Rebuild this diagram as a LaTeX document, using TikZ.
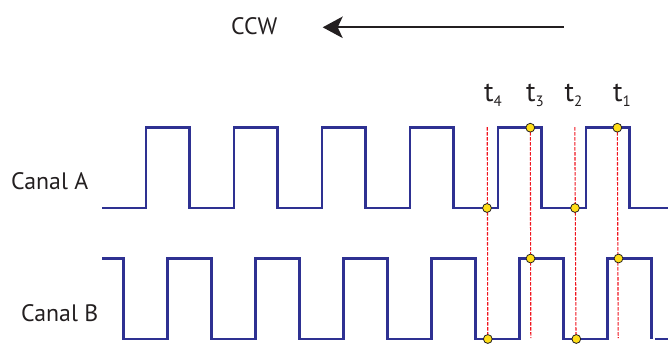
\documentclass[tikz,border=0pt]{standalone}
\usepackage{fontspec}
\setmainfont{PT Sans}
\usetikzlibrary{arrows.meta}
\definecolor{sigblue}{RGB}{46,49,146}
\definecolor{ink}{RGB}{35,31,32}
\definecolor{mred}{RGB}{240,20,30}
\definecolor{dotyel}{RGB}{255,222,23}
\newcommand{\tlab}[1]{{\fontsize{28}{28}\selectfont t}\raisebox{-5pt}{\fontsize{15}{15}\selectfont #1}}
\begin{document}
\begin{tikzpicture}[x=1pt,y=-1pt,
  signal/.style={draw=sigblue, line width=2.8pt, line join=miter},
  marker/.style={draw=mred, line width=1.1pt, dash pattern=on 3.5pt off 1.5pt},
  dot/.style={circle, fill=dotyel, draw=ink, line width=0.8pt, minimum size=8.8pt, inner sep=0pt},
  lbl/.style={font=\fontsize{23.8}{23.8}\selectfont, text=ink, inner sep=0pt},
  tl/.style={text=ink, inner sep=0pt, anchor=base west},
]
\useasboundingbox (0,0) rectangle (668,343);

% direction arrow
\node[lbl, anchor=base west] (ccw) at (231,34) {CCW};
\coordinate (arrS) at (563.5,27.3);
\coordinate (arrE) at (322.7,27.3);
\draw[ink, line width=1.7pt, -{Stealth[length=20pt,width=21.5pt,inset=5pt]}] (arrS) -- (arrE);

% channel labels
\node[lbl, anchor=base west] (canA) at (11,189.3) {Canal A};
\node[lbl, anchor=base west] (canB) at (21,321.7) {Canal B};

% time labels
\node[tl] (t4) at (484,101.7) {\tlab{4}};
\node[tl] (t3) at (526,101.7) {\tlab{3}};
\node[tl] (t2) at (564.5,101.7) {\tlab{2}};
\node[tl] (t1) at (613,101.7) {\tlab{1}};

% red dashed markers
\coordinate (m4t) at (487.2,127); \coordinate (m4b) at (487.8,339);
\coordinate (m3t) at (530.3,127); \coordinate (m3b) at (530.8,338);
\coordinate (m2t) at (574.8,127); \coordinate (m2b) at (576,339);
\coordinate (m1t) at (617.3,127); \coordinate (m1b) at (618.2,338);
\draw[marker] (m4t) -- (m4b);
\draw[marker] (m3t) -- (m3b);
\draw[marker] (m2t) -- (m2b);
\draw[marker] (m1t) -- (m1b);

% channel A
\draw[signal] (102,208)
  \foreach \k in {0,...,5}{
    -- ({146+88*\k},208) -- ({146+88*\k},127.7) -- ({189.7+88*\k},127.7) -- ({189.7+88*\k},208)}
  -- (668,208);

% channel B
\draw[signal] (102,258.5)
  \foreach \k in {0,...,5}{
    -- ({123.5+88*\k},258.5) -- ({123.5+88*\k},339) -- ({167.5+88*\k},339) -- ({167.5+88*\k},258.5)}
  -- (651.5,258.5) -- (651.5,339);
\draw[signal] (655,339) -- (668,339);

% yellow dots
\node[dot] (a4) at (487,208) {};
\node[dot] (a3) at (530.3,127.7) {};
\node[dot] (a2) at (575,208) {};
\node[dot] (a1) at (617.3,127.7) {};
\node[dot] (b4) at (487.8,339) {};
\node[dot] (b3) at (530.5,258.5) {};
\node[dot] (b2) at (576.3,339) {};
\node[dot] (b1) at (618.5,258.5) {};
\end{tikzpicture}
\end{document}
